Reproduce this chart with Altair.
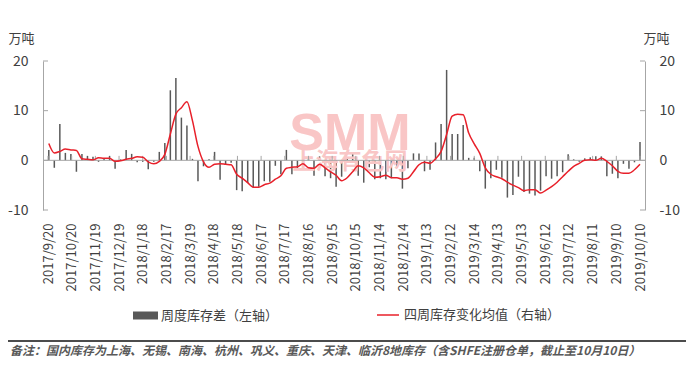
import altair as alt
import pandas as pd

# ---------------- data ----------------
start_date = "2017-09-21"
bar_values = [2.1, -1.5, 7.3, 1.5, 1.3, -2.3, 1.3, 0.9, 0.7, -0.3,
              0.4, 0.9, -1.7, 0.2, 2.1, 1.3, -0.4, -0.3, -1.8, -0.3,
              1.7, 3.5, 14.1, 16.6, 8.6, 7.0, 0.3, -4.2, -1.2, 0.2,
              1.7, -3.9, -0.8, -0.5, -6.0, -6.2, -4.6, -5.5, -5.3, -4.2,
              -4.3, -1.1, -2.8, 2.1, -2.8, -1.6, -0.8, 0.7, -3.1, 0.8,
              -3.2, -3.6, -5.3, -3.3, 0.4, 1.3, -3.1, -4.5, -1.4, -3.8,
              -3.6, -3.8, -3.6, -1.5, -5.7, -1.6, 1.4, 1.4, -2.2, -1.9,
              3.6, 7.3, 18.2, 5.3, 5.3, 7.1, 0.5, 0.5, -2.2, -5.7,
              -3.6, -1.9, -3.5, -7.5, -7.0, -3.3, -6.4, -6.7, -7.1, -6.1,
              -3.2, -3.7, -3.2, -2.4, 1.2, 0.2, -0.3, 0.4, 0.6, 0.8,
              0.8, -3.2, -2.7, -3.6, -0.7, -1.7, -0.4, 3.7]
line_values = [3.4, 1.5, 1.8, 2.3, 2.1, 2.0, 0.3, 0.2, 0.1, 0.5,
               0.4, 0.4, -0.2, -0.1, 0.2, 0.4, 0.7, 0.6, -0.3, -0.7,
               -0.2, 1.2, 5.3, 9.3, 10.6, 11.8, 8.0, 2.8, -0.3, -1.4,
               -0.8, -0.7, -0.8, -0.9, -2.8, -3.6, -4.5, -5.4, -5.4, -4.9,
               -4.6, -3.8, -3.1, -1.6, -1.4, -1.3, -0.7, -1.5, -1.6, -0.8,
               -1.5, -2.3, -3.0, -4.1, -3.5, -2.3, -1.1, -1.5, -2.5, -3.4,
               -3.3, -3.0, -3.5, -3.5, -3.8, -3.6, -2.3, -0.9, -0.4, -0.6,
               0.3, 1.8, 5.2, 8.9, 9.3, 9.2, 5.5, 3.3, 1.4, -1.5,
               -2.8, -3.3, -3.7, -4.4, -5.0, -5.5, -6.1, -5.9, -5.9, -6.6,
               -6.0, -5.3, -4.4, -3.3, -2.2, -1.2, -0.6, 0.0, 0.1, 0.0,
               0.4, -0.2, -1.1, -2.2, -2.6, -2.6, -1.9, -0.8]
tick_dates = ["2017-09-20", "2017-10-20", "2017-11-19", "2017-12-19", "2018-01-18",
              "2018-02-17", "2018-03-19", "2018-04-18", "2018-05-18", "2018-06-17",
              "2018-07-17", "2018-08-16", "2018-09-15", "2018-10-15", "2018-11-14",
              "2018-12-14", "2019-01-13", "2019-02-12", "2019-03-14", "2019-04-13",
              "2019-05-13", "2019-06-12", "2019-07-12", "2019-08-11", "2019-09-10",
              "2019-10-10"]
y_ticks = [-10, 0, 10, 20]
bar_name = "周度库存差（左轴）"
line_name = "四周库存变化均值（右轴）"
unit = "万吨"
note = "备注：国内库存为上海、无锡、南海、杭州、巩义、重庆、天津、临沂8地库存（含SHFE注册仓单，截止至10月10日）"
watermark = ["SMM", "上海有色网"]

# ---------------- styling ----------------
FONT = "Noto Sans CJK SC"
TXT = "#404040"
GRAY = "#a6a6a6"
BAR = "#595959"
RED = "#e8202a"
PINK = "#f9c6c6"
W, H = 602, 149


def ms(s):
    return int(pd.Timestamp(s, tz="UTC").value // 1_000_000)


dates = pd.date_range(start_date, periods=len(bar_values), freq="7D")
df = pd.DataFrame({"t": [ms(d.strftime("%Y-%m-%d")) for d in dates],
                   "bar": bar_values, "line": line_values,
                   "s_bar": bar_name, "s_line": line_name})
tick_ms = [ms(s) for s in tick_dates]
ticks_df = pd.DataFrame({"t": tick_ms, "z0": 0.0, "z1": 0.9})
yt_df = pd.DataFrame({"v": y_ticks})


def xs():
    return alt.Scale(type="utc", domain=[tick_ms[0], tick_ms[-1]])


def ys():
    return alt.Scale(domain=[-10, 20], nice=False, zero=False)


def x_axis():
    return alt.Axis(values=tick_ms,
                    labelExpr="utcFormat(datum.value, '%Y') + '/' + (utcmonth(datum.value) + 1) + '/' + utcdate(datum.value)",
                    labelAngle=270, labelFontSize=13, labelColor=TXT, labelFont=FONT,
                    labelPadding=13, ticks=False, domain=False, grid=False,
                    labelOverlap=False, labelFlush=False, labelSeparation=0, title=None)


def y_axis(orient, pad, tx):
    return alt.Axis(orient=orient, values=y_ticks, labelExpr="'' + datum.value",
                    labelFontSize=14, labelColor=TXT,
                    labelFont=FONT, labelPadding=pad, ticks=False, grid=False,
                    domainColor=GRAY, domainWidth=1, title=unit, titleAngle=0,
                    titleX=tx, titleY=-16, titleAlign="left", titleBaseline="bottom",
                    titleFontSize=13, titleFontWeight="normal", titleColor=TXT,
                    titleFont=FONT)


wm1 = alt.Chart(pd.DataFrame({"t": [watermark[0]]})).mark_text(
    font="Liberation Sans", fontWeight="bold", fontSize=52, color=PINK,
    align="center", baseline="alphabetic").encode(
    text="t:N", x=alt.value(307), y=alt.value(89))
wm2 = alt.Chart(pd.DataFrame({"t": [watermark[1]]})).mark_text(
    font=FONT, fontWeight="bold", fontSize=23, color=PINK,
    align="center", baseline="middle").encode(
    text="t:N", x=alt.value(307), y=alt.value(101))

zero = alt.Chart(pd.DataFrame({"z": [0]})).mark_rule(color=GRAY, strokeWidth=1).encode(
    y=alt.Y("z:Q", scale=ys(), axis=None))

bars = alt.Chart(df).mark_bar(size=1.5).encode(
    x=alt.X("t:T", scale=xs(), axis=x_axis()),
    y=alt.Y("bar:Q", scale=ys(), axis=y_axis("left", 15, -35)),
    color=alt.Color("s_bar:N", scale=alt.Scale(domain=[bar_name], range=[BAR]),
                    legend=alt.Legend(orient="none", legendX=90, legendY=242, title=None,
                                      symbolType="M-1,-0.32H1V0.32H-1Z", symbolSize=625,
                                      symbolStrokeWidth=0, labelFontSize=13,
                                      labelColor=TXT, labelFont=FONT, labelLimit=300,
                                      labelOffset=3)))

xticks = alt.Chart(ticks_df).mark_rule(color=GRAY, strokeWidth=1).encode(
    x=alt.X("t:T", scale=xs(), axis=x_axis()),
    y=alt.Y("z0:Q", scale=ys(), axis=None), y2="z1:Q")

lticks = alt.Chart(yt_df).mark_rule(color=GRAY).encode(
    x=alt.value(0), x2=alt.value(5), y=alt.Y("v:Q", scale=ys(), axis=None))

sep = alt.Chart(pd.DataFrame({"a": [1]})).mark_rule(color="#111111", strokeWidth=1.3).encode(
    x=alt.value(-35), x2=alt.value(W + 41), y=alt.value(280))

note_txt = alt.Chart(pd.DataFrame({"t": [note]})).mark_text(
    font=FONT, fontSize=12, fontStyle="italic", fontWeight="bold", color="#595959",
    align="left", baseline="middle").encode(
    text="t:N", x=alt.value(-33), y=alt.value(290))

line = alt.Chart(df).mark_line(strokeWidth=1.5, interpolate="monotone").encode(
    x=alt.X("t:T", scale=xs(), axis=x_axis()),
    y=alt.Y("line:Q", scale=ys(), axis=y_axis("right", 14, -2)),
    stroke=alt.Stroke("s_line:N", scale=alt.Scale(domain=[line_name], range=[RED]),
                      legend=alt.Legend(orient="none", legendX=333, legendY=242, title=None,
                                        symbolType="stroke", symbolSize=484,
                                        symbolStrokeWidth=1.5, labelFontSize=13,
                                        labelColor=TXT, labelFont=FONT, labelLimit=300,
                                        labelOffset=4)))

rticks = alt.Chart(yt_df).mark_rule(color=GRAY).encode(
    x=alt.value(W - 5), x2=alt.value(W), y=alt.Y("v:Q", scale=ys(), axis=None))

chart = alt.layer(bars, wm1, wm2, zero, xticks, lticks, sep, note_txt, line, rticks).resolve_scale(
    y="independent").properties(
    width=W, height=H,
    padding={"left": 35, "top": 53, "right": 41, "bottom": 155},
    autosize=alt.AutoSizeParams(type="none"),
).configure_view(stroke=None).configure_axisX(labelOverlap=False)

chart.save("out.html", embed_options={"renderer": "svg", "actions": False})
